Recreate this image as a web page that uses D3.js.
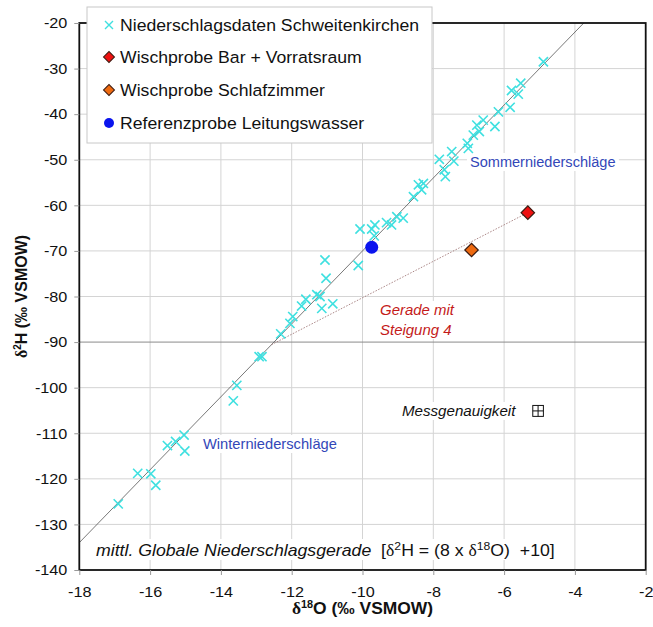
<!DOCTYPE html>
<html>
<head>
<meta charset="utf-8">
<script src="https://cdn.jsdelivr.net/npm/d3@7"></script>
<style>
  body { margin: 0; background: #fff; }
  svg { font-family: "Liberation Sans", Arial, sans-serif; }
</style>
</head>
<body>
<div id="chart"></div>
<script>
// Niederschlagsdaten Schweitenkirchen (d18O, d2H)
var rainO = [-16.90, -16.35, -15.98, -15.84, -15.51, -15.28, -15.04, -15.02, -13.65, -13.55,
  -12.92, -12.84, -12.31, -12.05, -11.97, -11.72, -11.60, -11.29, -11.20, -11.15,
  -10.84, -11.03, -11.06, -10.12, -10.07, -9.74, -9.65, -9.67, -9.32, -9.18,
  -9.03, -8.85, -8.56, -8.42, -8.33, -8.28, -7.83, -7.69, -7.66, -7.48,
  -7.42, -7.04, -7.01, -6.87, -6.77, -6.70, -6.59, -6.26, -6.16, -5.83,
  -5.79, -5.60, -5.53, -4.89];
var rainH = [-125.5, -118.8, -118.9, -121.4, -112.7, -111.8, -110.4, -113.9, -102.9, -99.5,
  -93.2, -93.2, -88.2, -85.9, -84.4, -82.1, -80.6, -79.6, -80.0, -82.6,
  -81.6, -76.0, -72.0, -73.2, -65.2, -65.2, -64.3, -66.7, -63.8, -64.3,
  -62.5, -62.8, -58.1, -55.5, -56.6, -55.2, -49.9, -52.2, -53.7, -48.2,
  -50.3, -46.4, -47.5, -44.6, -42.4, -43.8, -41.3, -42.7, -39.5, -38.5,
  -34.8, -35.6, -33.2, -28.5];

// Einzelproben
var sampleNames = ["Wischprobe Bar + Vorratsraum", "Wischprobe Schlafzimmer", "Referenzprobe Leitungswasser"];
var sampleO = [-5.33, -6.92, -9.74];
var sampleH = [-61.6, -69.8, -69.2];

// Messgenauigkeit (Position und Fehler)
var errO = -5.04, errH = -105.1, errDO = 0.15, errDH = 1.2;

// Achsen
var xTicks = [-18, -16, -14, -12, -10, -8, -6, -4, -2];
var yTicks = [-20, -30, -40, -50, -60, -70, -80, -90, -100, -110, -120, -130, -140];

var w = 653, h = 627;
var pL = 79.3, pR = 645.7, pT = 23, pB = 570;

var svg = d3.select("#chart").append("svg").attr("width", w).attr("height", h);

var x = d3.scaleLinear().domain([-18, -2]).range([pL, pR]);
var y = d3.scaleLinear().domain([-140, -20]).range([pB, pT]);

// the source picture is a bit wider than tall, so text gets stretched sideways
function stretch(sel, sx, mode) {
  sel.each(function () {
    var b = this.getBBox();
    var p = mode === "end" ? b.x + b.width : mode === "middle" ? b.x + b.width / 2 : b.x;
    var old = d3.select(this).attr("transform") || "";
    d3.select(this).attr("transform", old + " translate(" + p + ",0) scale(" + sx + ",1) translate(" + (-p) + ",0)");
  });
}

// gridlines
svg.append("g").selectAll("line").data(xTicks.slice(1, -1)).enter().append("line")
  .attr("x1", function (d) { return x(d); }).attr("x2", function (d) { return x(d); })
  .attr("y1", pT).attr("y2", pB)
  .attr("stroke", "#d4d4d4").attr("stroke-width", 1);
svg.append("g").selectAll("line").data(yTicks.slice(1, -1)).enter().append("line")
  .attr("x1", pL).attr("x2", pR)
  .attr("y1", function (d) { return y(d); }).attr("y2", function (d) { return y(d); })
  .attr("stroke", function (d) { return d === -90 ? "#8a8a8a" : "#d4d4d4"; })
  .attr("stroke-width", 1);

// globale Niederschlagsgerade: d2H = 8 * d18O + 10
var gmwl = [-18, -3.75];
svg.append("line")
  .attr("x1", x(gmwl[0])).attr("y1", y(8 * gmwl[0] + 10))
  .attr("x2", x(gmwl[1])).attr("y2", y(8 * gmwl[1] + 10))
  .attr("stroke", "#555").attr("stroke-width", 0.8);

// Gerade mit Steigung 4 durch die Wischprobe Bar
var o0 = (sampleH[0] - 4 * sampleO[0] - 10) / 4;
svg.append("line")
  .attr("x1", x(o0)).attr("y1", y(8 * o0 + 10))
  .attr("x2", x(sampleO[0])).attr("y2", y(sampleH[0]))
  .attr("stroke", "#a07878").attr("stroke-width", 0.9)
  .attr("stroke-dasharray", "1.5,1.5");

// text labels with white backing
function label(tx, ty, lines, color, italic, size, sx) {
  var g = svg.append("g");
  var bg = g.append("rect").attr("fill", "#fff");
  var t = g.append("text").attr("font-size", size).attr("fill", color)
    .attr("font-style", italic ? "italic" : "normal");
  lines.forEach(function (s, i) {
    t.append("tspan").attr("x", tx).attr("y", ty + i * 20).text(s);
  });
  var b = t.node().getBBox();
  stretch(t, sx, "start");
  bg.attr("x", b.x - 3).attr("y", b.y - 1).attr("width", b.width * sx + 6).attr("height", b.height + 2);
}
label(470, 167, ["Sommerniederschläge"], "#3347b8", false, 14, 1.04);
label(203, 449, ["Winterniederschläge"], "#3347b8", false, 14, 1.05);
label(380, 315, ["Gerade mit", "Steigung 4"], "#c41a1a", true, 14, 1.07);
label(402, 416, ["Messgenauigkeit"], "#111", true, 14, 1.08);

// Messgenauigkeit
var eg = svg.append("g").attr("stroke", "#111").attr("stroke-width", 1).attr("fill", "none");
eg.append("rect")
  .attr("x", x(errO - errDO)).attr("y", y(errH + errDH))
  .attr("width", x(errO + errDO) - x(errO - errDO))
  .attr("height", y(errH - errDH) - y(errH + errDH));
eg.append("line").attr("x1", x(errO - errDO)).attr("x2", x(errO + errDO))
  .attr("y1", y(errH)).attr("y2", y(errH));
eg.append("line").attr("x1", x(errO)).attr("x2", x(errO))
  .attr("y1", y(errH + errDH)).attr("y2", y(errH - errDH));

// rain points as crosses
var cs = 4.6;
svg.append("g").selectAll("path").data(rainO).enter().append("path")
  .attr("d", function (d, i) {
    var px = x(d), py = y(rainH[i]);
    return "M" + (px - cs) + "," + (py - cs) + "L" + (px + cs) + "," + (py + cs) +
      "M" + (px - cs) + "," + (py + cs) + "L" + (px + cs) + "," + (py - cs);
  })
  .attr("stroke", "#3fe0e0").attr("stroke-width", 1.6).attr("fill", "none");

// samples
var sampleFill = ["#ee1111", "#ee6a10"];
[0, 1].forEach(function (i) {
  svg.append("path")
    .attr("d", d3.symbol().type(d3.symbolSquare).size(90)())
    .attr("transform", "translate(" + x(sampleO[i]) + "," + y(sampleH[i]) + ") rotate(45)")
    .attr("fill", sampleFill[i]).attr("stroke", "#3a1a10").attr("stroke-width", 1.2);
});
svg.append("circle").attr("cx", x(sampleO[2])).attr("cy", y(sampleH[2])).attr("r", 6.5)
  .attr("fill", "#0a14ee");

// frame
svg.append("rect").attr("x", pL).attr("y", pT)
  .attr("width", pR - pL).attr("height", pB - pT)
  .attr("fill", "none").attr("stroke", "#111").attr("stroke-width", 1.8);

// axes
var fmt = function (d) { return String(d); };
var yAxis = svg.append("g").attr("transform", "translate(" + pL + ",0)")
  .call(d3.axisLeft(y).tickValues(yTicks).tickSize(5).tickPadding(7).tickFormat(fmt));
var xAxis = svg.append("g").attr("transform", "translate(0," + pB + ")")
  .call(d3.axisBottom(x).tickValues(xTicks).tickSize(5).tickPadding(11).tickFormat(fmt));
[xAxis, yAxis].forEach(function (a) {
  a.select(".domain").remove();
  a.selectAll("line").attr("stroke", "#999");
  a.selectAll("text").attr("font-size", 15).attr("fill", "#111")
    .attr("font-family", "Liberation Sans, Arial, sans-serif");
});
stretch(yAxis.selectAll("text"), 1.08, "end");
stretch(xAxis.selectAll("text"), 1.08, "middle");

// axis titles
var xt = svg.append("text").attr("x", (pL + pR) / 2).attr("y", 614)
  .attr("text-anchor", "middle").attr("font-size", 16).attr("font-weight", "bold").attr("fill", "#111");
xt.append("tspan").attr("font-family", "Liberation Serif, serif").text("δ");
xt.append("tspan").attr("font-size", 10).attr("dy", -6).text("18");
xt.append("tspan").attr("dy", 6).text("O (‰ VSMOW)");
stretch(xt, 1.09, "middle");

var yt = svg.append("text")
  .attr("transform", "translate(27," + (pT + pB) / 2 + ") rotate(-90)")
  .attr("text-anchor", "middle").attr("font-size", 16).attr("font-weight", "bold").attr("fill", "#111");
yt.append("tspan").attr("font-family", "Liberation Serif, serif").text("δ");
yt.append("tspan").attr("font-size", 10).attr("dy", -6).text("2");
yt.append("tspan").attr("dy", 6).text("H (‰ VSMOW)");

// bottom annotation
var bg2 = svg.append("rect").attr("fill", "#fff");
var ann = svg.append("text").attr("x", 96).attr("y", 556).attr("font-size", 16).attr("fill", "#111");
ann.append("tspan").attr("font-style", "italic").text("mittl. Globale Niederschlagsgerade");
ann.append("tspan").text("\u00a0\u00a0[");
ann.append("tspan").attr("font-family", "Liberation Serif, serif").text("δ");
ann.append("tspan").attr("font-size", 11).attr("dy", -6).text("2");
ann.append("tspan").attr("dy", 6).text("H = (8 x ");
ann.append("tspan").attr("font-family", "Liberation Serif, serif").text("δ");
ann.append("tspan").attr("font-size", 11).attr("dy", -6).text("18");
ann.append("tspan").attr("dy", 6).text("O)\u00a0\u00a0+10]");
var ab = ann.node().getBBox();
var annSx = 459 / ab.width;
stretch(ann, annSx, "start");
bg2.attr("x", ab.x - 3).attr("y", ab.y - 1).attr("width", ab.width * annSx + 6).attr("height", ab.height + 2);

// legend
var lg = svg.append("g");
lg.append("rect").attr("x", 87).attr("y", 7).attr("width", 345).attr("height", 136)
  .attr("fill", "#fff").attr("stroke", "#c8c8c8").attr("stroke-width", 1);
var legNames = ["Niederschlagsdaten Schweitenkirchen"].concat(sampleNames);
var legY = [25, 57, 90, 123];
legNames.forEach(function (name, i) {
  var mx = 109, my = legY[i];
  if (i === 0) {
    var s = 4;
    lg.append("path")
      .attr("d", "M" + (mx - s) + "," + (my - s) + "L" + (mx + s) + "," + (my + s) +
        "M" + (mx - s) + "," + (my + s) + "L" + (mx + s) + "," + (my - s))
      .attr("stroke", "#3fe0e0").attr("stroke-width", 1.4);
  } else if (i < 3) {
    lg.append("path")
      .attr("d", d3.symbol().type(d3.symbolSquare).size(60)())
      .attr("transform", "translate(" + mx + "," + my + ") rotate(45)")
      .attr("fill", sampleFill[i - 1]).attr("stroke", "#3a1a10").attr("stroke-width", 1);
  } else {
    lg.append("circle").attr("cx", mx).attr("cy", my).attr("r", 5).attr("fill", "#0a14ee");
  }
  var lt = lg.append("text").attr("x", 120).attr("y", my + 6).attr("font-size", 16.5).attr("fill", "#111")
    .text(name);
  stretch(lt, 1.07, "start");
});
</script>
</body>
</html>
